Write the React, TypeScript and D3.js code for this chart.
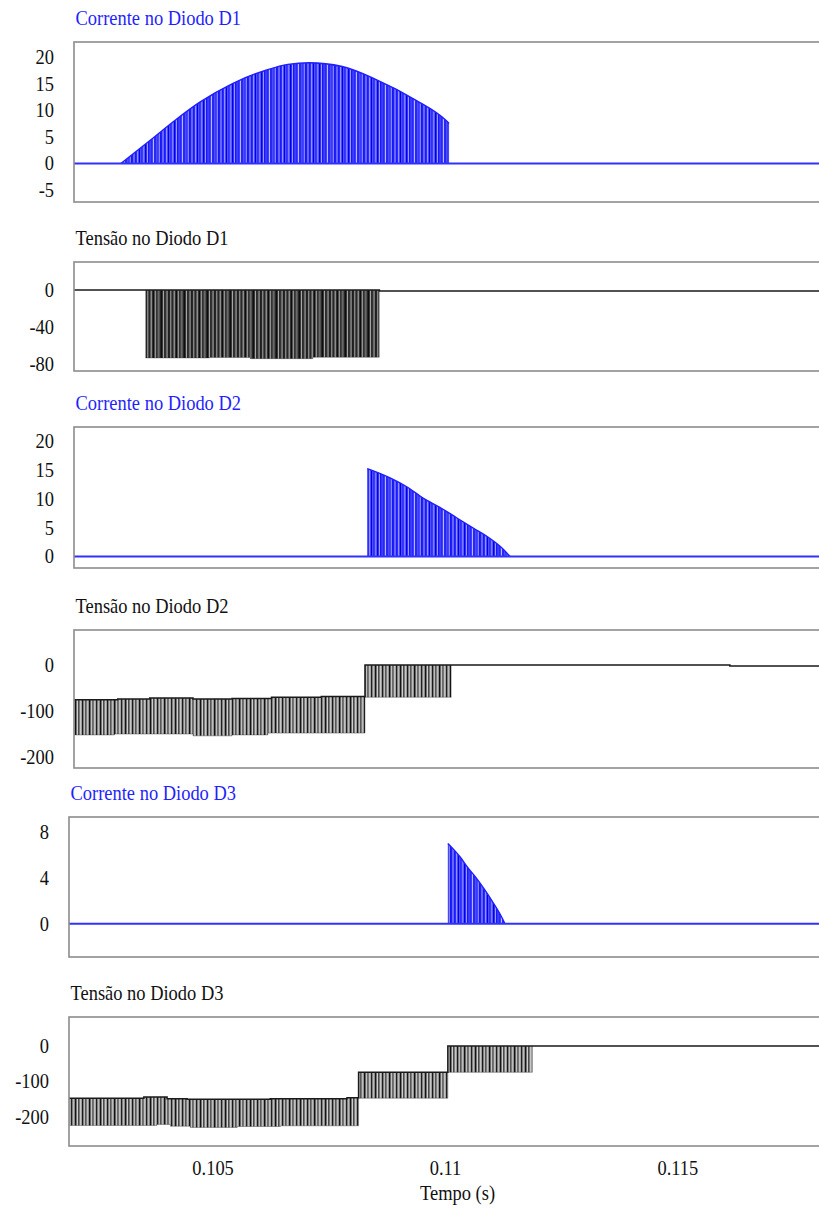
import React, { useEffect, useRef } from "react";
import * as d3 from "d3";

// eixo do tempo (s)
const tStart = 0.1019;
const tEnd = 0.1181;
const timeTicks = [0.105, 0.11, 0.115];
const timeTickLabels = ["0.105", "0.11", "0.115"];
const timeLabel = "Tempo (s)";

const titles = [
  "Corrente no Diodo D1",
  "Tensão no Diodo D1",
  "Corrente no Diodo D2",
  "Tensão no Diodo D2",
  "Corrente no Diodo D3",
  "Tensão no Diodo D3",
];

const iD1Ticks = [20, 15, 10, 5, 0, -5];
const vD1Ticks = [0, -40, -80];
const iD2Ticks = [20, 15, 10, 5, 0];
const vD2Ticks = [0, -100, -200];
const iD3Ticks = [8, 4, 0];
const vD3Ticks = [0, -100, -200];

// envoltória dos pulsos de corrente [t, i]
const iD1Env: [number, number][] = [
  [0.10291, 0], [0.10352, 4.2], [0.10409, 8.2], [0.10459, 11.4], [0.10531, 15.0],
  [0.10603, 17.5], [0.1065, 18.6], [0.10696, 18.9], [0.10767, 18.2], [0.10839, 15.8],
  [0.10925, 11.9], [0.1099, 8.1], [0.10997, 7.5],
];
const iD2Env: [number, number][] = [
  [0.10821, 15.2], [0.1087, 13.6], [0.10905, 12.1], [0.10941, 10.1], [0.10977, 8.5],
  [0.11013, 6.7], [0.11049, 4.9], [0.11085, 3.1], [0.11113, 1.3], [0.11128, 0],
];
const iD3Env: [number, number][] = [
  [0.11005, 7.0], [0.11017, 6.5], [0.11032, 5.8], [0.11046, 5.0], [0.11064, 4.1],
  [0.11082, 3.1], [0.111, 2.0], [0.11118, 0.8], [0.11128, 0],
];

// tensões: traço contínuo e fundo da faixa de chaveamento [t, v]
const vD1Trace: [number, number][] = [
  [0.1019, 0], [0.10344, 0], [0.10847, 0], [0.10847, -1.2], [0.1181, -1.2],
];
const vD1Floor: [number, number][] = [
  [0.10344, -73.8], [0.10482, -73.8], [0.10482, -73.4], [0.10569, -73.4], [0.10569, -74.6],
  [0.10704, -74.6], [0.10704, -73], [0.10847, -73],
];
const vD2Trace: [number, number][] = [
  [0.1019, -75.5], [0.10284, -75.5], [0.10284, -74], [0.10353, -74], [0.10353, -71.5],
  [0.10446, -71.5], [0.10446, -74], [0.1053, -74], [0.1053, -72.5], [0.10615, -72.5],
  [0.10615, -70], [0.10722, -70], [0.10722, -68.5], [0.10816, -68.5], [0.10816, 0],
  [0.11002, 0], [0.11601, 0], [0.11601, -2], [0.1181, -2],
];
const vD2Floor: [number, number][] = [
  [0.1019, -152], [0.10277, -152], [0.10277, -150], [0.10446, -150], [0.10446, -154],
  [0.1053, -154], [0.1053, -152], [0.10607, -152], [0.10607, -148], [0.10816, -148],
  [0.10816, -70], [0.11002, -70],
];
const vD3Trace: [number, number][] = [
  [0.1019, -147], [0.10351, -147], [0.10351, -143.5], [0.10401, -143.5], [0.10401, -148.5],
  [0.10444, -148.5], [0.10444, -150], [0.10623, -150], [0.10623, -148.5], [0.10788, -148.5],
  [0.10788, -146], [0.10813, -146], [0.10813, -74], [0.11005, -74], [0.11005, 0],
  [0.11187, 0], [0.1181, 0],
];
const vD3Floor: [number, number][] = [
  [0.1019, -224], [0.10379, -224], [0.10379, -221], [0.10408, -221], [0.10408, -226],
  [0.10451, -226], [0.10451, -229.5], [0.10552, -229.5], [0.10552, -227], [0.10645, -227],
  [0.10645, -225], [0.10813, -225], [0.10813, -147], [0.11005, -147], [0.11005, -74],
  [0.11187, -74],
];

const BLUE = "#1f1fff";
const FONT = "'Liberation Serif', 'Times New Roman', serif";

const panels = [
  { title: titles[0], kind: "current", left: 74, top: 42, bottom: 202, yMin: -7.25, yMax: 22.8, ticks: iD1Ticks, env: iD1Env },
  { title: titles[1], kind: "voltage", left: 74, top: 262, bottom: 371, yMin: -88, yMax: 30.3, ticks: vD1Ticks, trace: vD1Trace, floor: vD1Floor, hatch: "hatch-dark" },
  { title: titles[2], kind: "current", left: 74, top: 427, bottom: 568, yMin: -2.0, yMax: 22.4, ticks: iD2Ticks, env: iD2Env },
  { title: titles[3], kind: "voltage", left: 74, top: 630, bottom: 768, yMin: -224, yMax: 76.3, ticks: vD2Ticks, trace: vD2Trace, floor: vD2Floor, hatch: "hatch-gray" },
  { title: titles[4], kind: "current", left: 69, top: 817, bottom: 957, yMin: -2.9, yMax: 9.3, ticks: iD3Ticks, env: iD3Env },
  { title: titles[5], kind: "voltage", left: 69, top: 1017, bottom: 1146, yMin: -282, yMax: 82, ticks: vD3Ticks, trace: vD3Trace, floor: vD3Floor, hatch: "hatch-gray" },
];

const plotWidth = 753;

const App = () => {
  const svgRef = useRef<SVGSVGElement>(null);

  useEffect(() => {
    const svg = d3.select(svgRef.current);
    svg.selectAll("*").remove();

    // padrões de listras verticais (pulsos de chaveamento)
    const defs = svg.append("defs");
    const makePattern = (id: string, w: number, bg: string, stripes: [number, number, string, number][]) => {
      const p = defs.append("pattern")
        .attr("id", id)
        .attr("patternUnits", "userSpaceOnUse")
        .attr("width", w)
        .attr("height", 10);
      p.append("rect").attr("width", w).attr("height", 10).attr("fill", bg);
      stripes.forEach(([x, sw, c, o]) => {
        p.append("rect").attr("x", x).attr("width", sw).attr("height", 10).attr("fill", c).attr("opacity", o);
      });
    };
    makePattern("hatch-blue", 29, "#5050ff", [
      [0, 1.4, "#0000e8", 1], [2.1, 0.6, "#ffffff", 0.7], [3.2, 1.2, "#0a0af5", 1],
      [5.6, 1.8, "#2626ff", 1], [8.3, 0.7, "#ffffff", 0.85], [9.5, 1.0, "#0000e0", 1],
      [11.8, 1.6, "#3a3aff", 1], [14.2, 0.5, "#ffffff", 0.6], [15.3, 1.3, "#0000f0", 1],
      [17.6, 0.8, "#8888ff", 1], [19.1, 1.5, "#1414ff", 1], [21.5, 0.6, "#ffffff", 0.75],
      [22.8, 1.2, "#0000e8", 1], [25.0, 1.7, "#3030ff", 1], [27.5, 0.6, "#ffffff", 0.5],
    ]);
    makePattern("hatch-dark", 23, "#555", [
      [0, 1.4, "#0d0d0d", 1], [2.2, 0.6, "#ffffff", 0.8], [3.3, 1.3, "#1c1c1c", 1],
      [5.6, 1.0, "#8c8c8c", 1], [7.2, 1.5, "#111", 1], [9.6, 0.5, "#ffffff", 0.7],
      [10.7, 1.2, "#222", 1], [12.9, 0.9, "#9a9a9a", 1], [14.5, 1.6, "#0d0d0d", 1],
      [17.0, 0.6, "#ffffff", 0.6], [18.2, 1.2, "#2a2a2a", 1], [20.4, 1.0, "#777", 1],
      [21.8, 0.9, "#111", 1],
    ]);
    makePattern("hatch-gray", 25, "#8a8a8a", [
      [0, 1.2, "#141414", 1], [2.0, 0.7, "#ffffff", 0.85], [3.2, 1.0, "#3a3a3a", 1],
      [5.0, 1.3, "#c8c8c8", 1], [7.0, 1.1, "#1a1a1a", 1], [9.0, 0.6, "#ffffff", 0.7],
      [10.2, 1.0, "#4a4a4a", 1], [12.0, 1.2, "#bdbdbd", 1], [14.0, 1.3, "#111", 1],
      [16.2, 0.6, "#ffffff", 0.8], [17.4, 1.0, "#555", 1], [19.2, 1.2, "#d0d0d0", 1],
      [21.0, 1.1, "#1e1e1e", 1], [23.2, 0.7, "#ffffff", 0.6],
    ]);

    const addText = (x: number, y: number, str: string, anchor: string, color: string, dy = "0") =>
      svg.append("text")
        .attr("transform", `translate(${x},${y}) scale(0.9,1)`)
        .attr("text-anchor", anchor)
        .attr("dy", dy)
        .attr("font-family", FONT)
        .attr("font-size", 20.5)
        .attr("fill", color)
        .text(str);

    let lastX: d3.ScaleLinear<number, number> | null = null;
    let lastPanel: any = null;

    panels.forEach((pn: any) => {
      const x = d3.scaleLinear().domain([tStart, tEnd]).range([pn.left, pn.left + plotWidth]);
      const y = d3.scaleLinear().domain([pn.yMin, pn.yMax]).range([pn.bottom, pn.top]);
      const g = svg.append("g");

      g.append("rect")
        .attr("x", pn.left).attr("y", pn.top)
        .attr("width", plotWidth).attr("height", pn.bottom - pn.top)
        .attr("fill", "#fff");

      if (pn.kind === "current") {
        const area = d3.area<[number, number]>()
          .x(d => x(d[0]))
          .y0(() => y(0))
          .y1(d => y(d[1]))
          .curve(d3.curveMonotoneX);
        g.append("path").datum(pn.env).attr("d", area).attr("fill", "url(#hatch-blue)");

        const line = d3.line<[number, number]>()
          .x(d => x(d[0]))
          .y(d => y(d[1]))
          .curve(d3.curveMonotoneX);
        g.append("path").datum(pn.env).attr("d", line)
          .attr("fill", "none").attr("stroke", BLUE).attr("stroke-width", 1.4);

        g.append("line")
          .attr("x1", x(tStart)).attr("x2", x(tEnd))
          .attr("y1", y(0)).attr("y2", y(0))
          .attr("stroke", "#3030ff").attr("stroke-width", 2);
      } else {
        const t0 = pn.floor[0][0];
        const t1 = pn.floor[pn.floor.length - 1][0];
        const i0 = pn.trace.findIndex((p: [number, number]) => p[0] >= t0);
        const i1 = pn.trace.findIndex((p: [number, number]) => p[0] >= t1);
        const band = pn.trace.slice(i0, i1 + 1).concat(pn.floor.slice().reverse());
        const line = d3.line<[number, number]>().x(d => x(d[0])).y(d => y(d[1]));

        g.append("path").attr("d", line(band) + "Z").attr("fill", `url(#${pn.hatch})`);
        g.append("path").datum(pn.floor).attr("d", line)
          .attr("fill", "none").attr("stroke", "#333").attr("stroke-width", 0.8).attr("opacity", 0.5);
        g.append("path").datum(pn.trace).attr("d", line)
          .attr("fill", "none").attr("stroke", "#1a1a1a").attr("stroke-width", 1.5);
      }

      g.append("rect")
        .attr("x", pn.left).attr("y", pn.top)
        .attr("width", plotWidth).attr("height", pn.bottom - pn.top)
        .attr("fill", "none").attr("stroke", "#8c8c8c").attr("stroke-width", 1.6);

      // rótulos do eixo y
      pn.ticks.forEach((v: number) => addText(pn.left - 20, y(v), String(v), "end", "#111", "0.34em"));

      // título do painel
      addText(pn.left + 1.5, pn.top - 17, pn.title, "start", pn.kind === "current" ? BLUE : "#111");

      lastX = x;
      lastPanel = pn;
    });

    // eixo do tempo (somente no último painel)
    if (lastX && lastPanel) {
      const x = lastX as d3.ScaleLinear<number, number>;
      timeTicks.forEach((t, i) => addText(x(t), lastPanel.bottom + 29, timeTickLabels[i], "middle", "#111"));
      addText(x(0.11) + 12, lastPanel.bottom + 54, timeLabel, "middle", "#111");
    }
  }, []);

  return (
    <svg
      ref={svgRef}
      width={819}
      height={1209}
      style={{ position: "absolute", left: 0, top: 0, background: "#fff" }}
    />
  );
};

export default App;
